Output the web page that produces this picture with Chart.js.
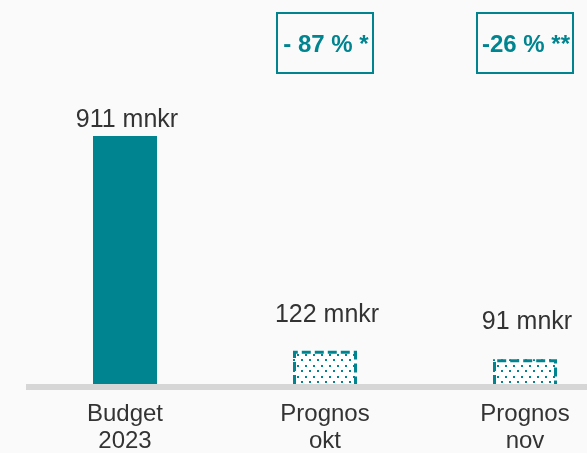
<!DOCTYPE html>
<html>
<head>
<meta charset="utf-8">
<script src="https://cdn.jsdelivr.net/npm/chart.js@4"></script>
<style>
  html, body { margin: 0; padding: 0; background: #fafafa; overflow: hidden; }
  canvas { display: block; }
</style>
</head>
<body>
<canvas id="barChart" width="625" height="472"></canvas>
<script>
// chart data
let categories = [['Budget', '2023'], ['Prognos', 'okt'], ['Prognos', 'nov']];
let values = [911, 122, 91];
let valueLabels = ['911 mnkr', '122 mnkr', '91 mnkr'];
let changeLabels = [null, '- 87 % *', '-26 % **'];

let teal = '#00848f';
let textGray = '#333333';
let fontFamily = '"Liberation Sans", Arial, sans-serif';
let labelGap = [9, 29, 30];

// dotted fill for the forecast bars
function dotPattern() {
    var tile = document.createElement('canvas');
    tile.width = 8;
    tile.height = 11;
    var c = tile.getContext('2d');
    c.fillStyle = '#ffffff';
    c.fillRect(0, 0, 8, 11);
    c.fillStyle = teal;
    c.fillRect(1, 2, 2, 2);
    c.fillRect(5, 7, 2, 2);
    return c.createPattern(tile, 'repeat');
}

let pattern = dotPattern();

let extras = {
    id: 'extras',
    afterDatasetsDraw: function (chart) {
        let ctx = chart.ctx;
        let area = chart.chartArea;
        let meta = chart.getDatasetMeta(0);

        ctx.save();
        // base line
        ctx.fillStyle = '#d6d6d6';
        ctx.fillRect(area.left + 1, area.bottom, area.right - area.left, 6);

        meta.data.forEach(function (bar, i) {
            let left = bar.x - bar.width / 2;
            let right = bar.x + bar.width / 2;

            // dashed outline on forecasts
            if (i > 0) {
                ctx.strokeStyle = teal;
                ctx.lineWidth = 3;
                ctx.setLineDash([9, 4]);
                ctx.beginPath();
                ctx.moveTo(left + 1.5, bar.base);
                ctx.lineTo(left + 1.5, bar.y + 1.5);
                ctx.lineTo(right - 1.5, bar.y + 1.5);
                ctx.lineTo(right - 1.5, bar.base);
                ctx.stroke();
                ctx.setLineDash([]);
            }

            // value label
            ctx.fillStyle = textGray;
            ctx.font = '25px ' + fontFamily;
            ctx.textAlign = 'center';
            ctx.textBaseline = 'alphabetic';
            ctx.fillText(valueLabels[i], bar.x + 2, bar.y - labelGap[i]);

            // change box
            if (changeLabels[i]) {
                ctx.strokeStyle = teal;
                ctx.lineWidth = 2;
                ctx.strokeRect(bar.x - 48, 13, 96, 60);
                ctx.fillStyle = teal;
                ctx.font = 'bold 24px ' + fontFamily;
                ctx.fillText(changeLabels[i], bar.x + 1, 52);
            }
        });
        ctx.restore();
    }
};

var ctx = document.getElementById('barChart');

var barChart = new Chart(ctx, {
    type: 'bar',
    data: {
        labels: categories,
        datasets: [{
            data: values,
            backgroundColor: [teal, pattern, pattern],
            borderWidth: 0,
            barPercentage: 0.32,
            categoryPercentage: 1
        }]
    },
    options: {
        responsive: false,
        animation: false,
        layout: { padding: { left: 25, top: 0, right: 0, bottom: 0 } },
        plugins: {
            legend: { display: false },
            tooltip: { enabled: false }
        },
        scales: {
            x: {
                grid: { display: false, drawTicks: false },
                border: { display: false },
                ticks: {
                    color: textGray,
                    padding: 17,
                    font: { size: 24, family: fontFamily, lineHeight: 1.125 },
                    maxRotation: 0,
                    autoSkip: false
                }
            },
            y: {
                display: false,
                min: 0,
                max: 1410
            }
        }
    },
    plugins: [extras]
});
</script>
</body>
</html>
